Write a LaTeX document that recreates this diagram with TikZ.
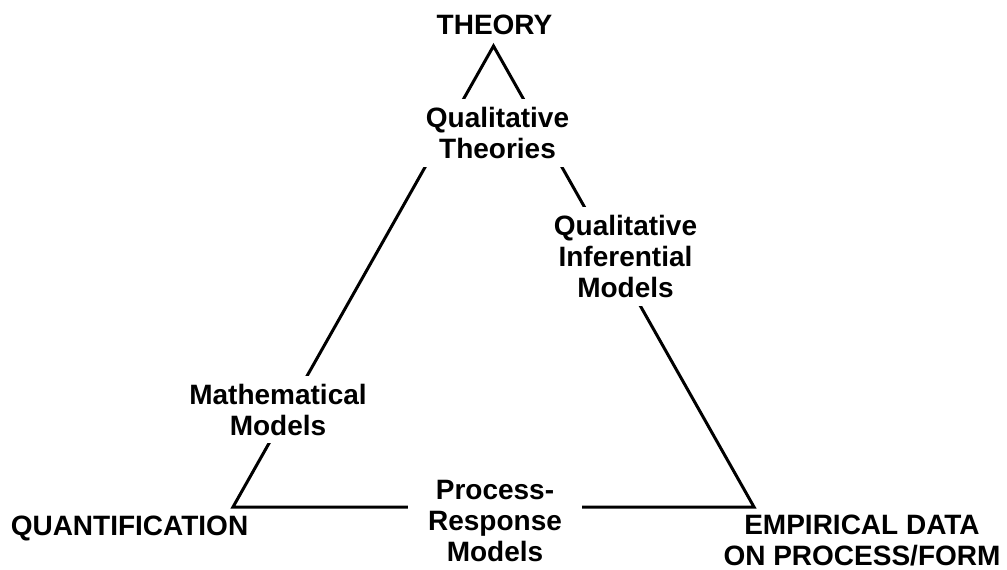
\documentclass[tikz,border=0pt]{standalone}
\usepackage{fontspec}
\setmainfont{Liberation Sans}
\usepackage{xcolor}

\newcommand{\lblfont}{\fontsize{28}{31}\selectfont\bfseries}

\begin{document}
\begin{tikzpicture}[x=1pt, y=-1pt,
  lbl/.style={font=\lblfont, align=center},
  gap/.style={lbl, fill=white, inner xsep=20pt, inner ysep=8pt}]
\useasboundingbox (0,0) rectangle (1007,570);

\coordinate (top) at (493.5,46);
\coordinate (bl) at (233,507);
\coordinate (br) at (754,507);

\draw[line width=3pt] (top) -- (bl) -- (br) -- cycle;

\node[lbl] at (494.5,25) (theory) {THEORY};
\node[lbl] at (129.5,528) (quant) {QUANTIFICATION};
\node[lbl] at (862,540.5) (empir) {EMPIRICAL DATA\\ON PROCESS/FORM};

\node[gap] at (497.5,133) (qtheo) {Qualitative\\Theories};
\node[gap] at (625.5,256.5) (qinf) {Qualitative\\Inferential\\Models};
\node[gap] at (278,409.5) (math) {Mathematical\\Models};
\node[gap] at (495,521) (proc) {Process-\\Response\\Models};

\end{tikzpicture}
\end{document}
